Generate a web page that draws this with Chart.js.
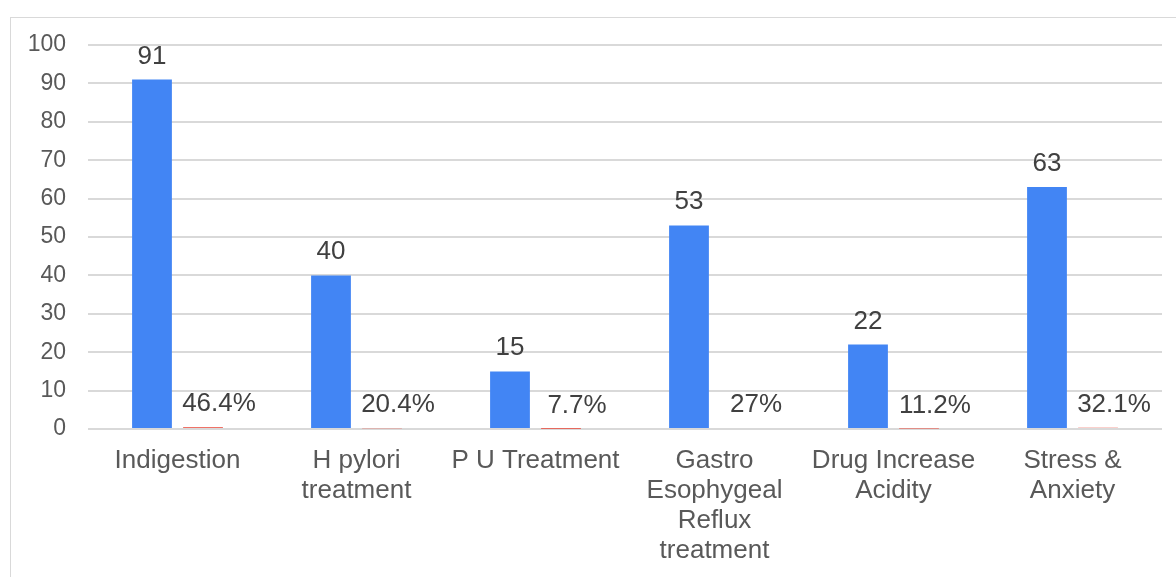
<!DOCTYPE html>
<html lang="en">
<head>
    <meta charset="UTF-8">
    <title>Chart</title>
    <script src="https://cdn.jsdelivr.net/npm/chart.js"></script>
    <style>
        body {
            margin: 0;
            padding: 0;
            background: #ffffff;
            font-family: 'Liberation Sans', Arial, sans-serif;
            overflow: hidden;
        }
        .frame {
            position: absolute;
            left: 10px;
            top: 17px;
            width: 1200px;
            height: 600px;
            border: 1px solid #d9d9d9;
        }
        .wrap {
            position: absolute;
            left: 0;
            top: 0;
            width: 1176px;
            height: 577px;
        }
    </style>
</head>
<body>
    <div class="frame"></div>
    <div class="wrap"><canvas id="chart" width="1176" height="577"></canvas></div>

    <script>
        const categories = [
            "Indigestion",
            ["H pylori", "treatment"],
            "P U Treatment",
            ["Gastro", "Esophygeal", "Reflux", "treatment"],
            ["Drug Increase", "Acidity"],
            ["Stress &", "Anxiety"]
        ];
        const counts = [91, 40, 15, 53, 22, 63];
        const percents = [0.464, 0.204, 0.077, 0.27, 0.112, 0.321];
        const percentLabels = ["46.4%", "20.4%", "7.7%", "27%", "11.2%", "32.1%"];
        const yTicks = [0, 10, 20, 30, 40, 50, 60, 70, 80, 90, 100];

        const FONT = "'Liberation Sans', Arial, sans-serif";

        // draws the value labels above each bar
        const barLabels = {
            id: "barLabels",
            afterDatasetsDraw(chart) {
                const ctx = chart.ctx;
                ctx.save();
                ctx.font = "26px " + FONT;
                ctx.fillStyle = "#404040";
                ctx.textAlign = "center";
                ctx.textBaseline = "alphabetic";
                chart.data.datasets.forEach((ds, i) => {
                    const meta = chart.getDatasetMeta(i);
                    meta.data.forEach((bar, j) => {
                        const txt = i === 0 ? String(counts[j]) : percentLabels[j];
                        const dx = i === 0 ? 0 : 16;
                        ctx.fillText(txt, bar.x + dx, bar.y - 16);
                    });
                });
                ctx.restore();
            }
        };

        new Chart(document.getElementById("chart"), {
            type: "bar",
            data: {
                labels: categories,
                datasets: [{
                    label: "Count",
                    data: counts,
                    backgroundColor: "#4285f4",
                    categoryPercentage: 0.57,
                    barPercentage: 0.78
                }, {
                    label: "Percent",
                    data: percents,
                    backgroundColor: "#ea4335",
                    categoryPercentage: 0.57,
                    barPercentage: 0.78
                }]
            },
            options: {
                responsive: false,
                animation: false,
                layout: {
                    padding: { left: 10, top: 45, right: 14, bottom: 0 }
                },
                plugins: {
                    legend: { display: false },
                    tooltip: { enabled: false }
                },
                scales: {
                    x: {
                        grid: { display: false, drawTicks: false },
                        border: { display: false },
                        ticks: {
                            color: "#595959",
                            font: { family: FONT, size: 26, lineHeight: 1.15 },
                            padding: 17,
                            maxRotation: 0,
                            autoSkip: false
                        },
                        afterFit(scale) { scale.height = 148; }
                    },
                    y: {
                        min: 0,
                        max: 100,
                        afterBuildTicks(scale) {
                            scale.ticks = yTicks.map(v => ({ value: v }));
                        },
                        grid: { color: "#d9d9d9", lineWidth: 2, drawTicks: false },
                        border: { display: false },
                        ticks: {
                            color: "#595959",
                            font: { family: FONT, size: 23 },
                            padding: 22
                        },
                        afterFit(scale) { scale.width = 78; }
                    }
                }
            },
            plugins: [barLabels]
        });
    </script>
</body>
</html>
